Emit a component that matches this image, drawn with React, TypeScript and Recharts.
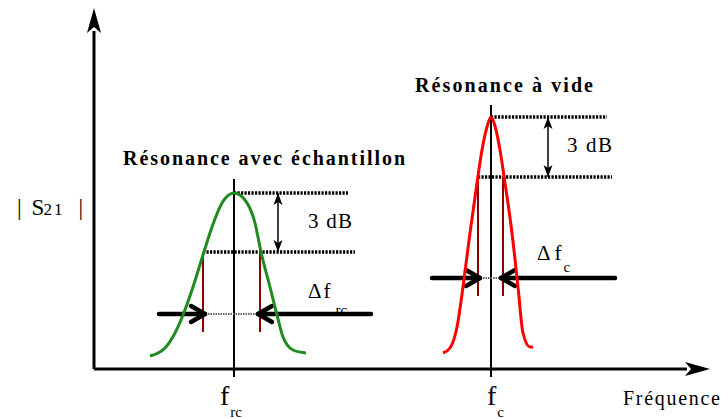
import React from "react"
import { ComposedChart, Line, XAxis, YAxis, ReferenceLine } from "recharts"

// arbitrary units: frequency along x, |S21| along y
const sampleFreq = [56, 71, 81, 89, 99, 109, 118, 128, 140, 151, 161, 167, 176, 183, 189, 199, 212]
const sampleS21 = [13, 21, 36, 54, 82, 114, 142, 166, 176, 169, 146, 117, 82, 54, 32, 19, 16]
const emptyFreq = [349, 356, 363, 369, 376, 383, 388, 393, 397, 401, 406, 411, 418, 424, 429, 436, 439]
const emptyS21 = [16, 21, 42, 82, 136, 186, 219, 242, 252, 243, 219, 186, 136, 82, 36, 22, 22]

const sampleData = sampleFreq.map((f, i) => ({ f, s: sampleS21[i] }))
const emptyData = emptyFreq.map((f, i) => ({ f, s: emptyS21[i] }))

// one entry per resonance: [with sample, empty cavity]
const titles = ["Résonance avec échantillon", "Résonance à vide"]
const tickSubs = ["rc", "c"]
const peakFreq = [140, 397]
const peakLevel = [176, 252]
const halfLevel = [117, 192]
const halfLow = [109, 384]
const halfHigh = [166, 409]
const bandLevel = [55, 91]
const markTop = [190, 264]
const dotEnd = [254, 513]
const halfDotEnd = [261, 518]
const dbArrowFreq = [184, 454]
const arrowOuterLow = [65, 338]
const arrowOuterHigh = [277, 521]

const X_MAX = 616
const Y_MAX = 361
const AXIS_BELOW = -8

const W = 723
const H = 419
const MARGIN = { top: 8, right: 13, bottom: 50, left: 94 }
const serif = "'Liberation Serif'"

// same linear mapping as the chart's hidden axes, for the text layer
const sx = (x: number) => MARGIN.left + (x / X_MAX) * (W - MARGIN.left - MARGIN.right)
const sy = (y: number) => MARGIN.top + (1 - y / Y_MAX) * (H - MARGIN.top - MARGIN.bottom)

function unit(p: any) {
  const dx = p.x2 - p.x1
  const dy = p.y2 - p.y1
  const len = Math.hypot(dx, dy) || 1
  return { ux: dx / len, uy: dy / len }
}

// thick axis with a filled head at the end
const axisShape = (p: any) => {
  const { ux, uy } = unit(p)
  const L = 25, Wd = 7
  const bx = p.x2 - ux * L, by = p.y2 - uy * L
  return (
    <g>
      <line x1={p.x1} y1={p.y1} x2={bx + ux * 2} y2={by + uy * 2} stroke="#000" strokeWidth={3} />
      <polygon
        points={`${p.x2},${p.y2} ${bx - uy * Wd},${by + ux * Wd} ${bx + ux * 6},${by + uy * 6} ${bx + uy * Wd},${by - ux * Wd}`}
        fill="#000"
      />
    </g>
  )
}

// thick arrow with an open chevron head
const chevronShape = (p: any) => {
  const { ux, uy } = unit(p)
  const L = 14, Wd = 8
  const bx = p.x2 - ux * L, by = p.y2 - uy * L
  return (
    <g stroke="#000" strokeWidth={4.5} fill="none" strokeLinecap="round" strokeLinejoin="round">
      <line x1={p.x1} y1={p.y1} x2={p.x2} y2={p.y2} />
      <polyline points={`${bx - uy * Wd},${by + ux * Wd} ${p.x2},${p.y2} ${bx + uy * Wd},${by - ux * Wd}`} />
    </g>
  )
}

// thin double-headed arrow for the 3 dB span
const doubleShape = (p: any) => {
  const { ux, uy } = unit(p)
  const L = 12, Wd = 4.5
  const head = (tx: number, ty: number, ax: number, ay: number) => {
    const bx = tx - ax * L, by = ty - ay * L
    return `${tx},${ty} ${bx - ay * Wd},${by + ax * Wd} ${bx + ax * 3},${by + ay * 3} ${bx + ay * Wd},${by - ax * Wd}`
  }
  return (
    <g>
      <line x1={p.x1} y1={p.y1} x2={p.x2} y2={p.y2} stroke="#000" strokeWidth={1.5} />
      <polygon points={head(p.x2, p.y2, ux, uy)} fill="#000" />
      <polygon points={head(p.x1, p.y1, -ux, -uy)} fill="#000" />
    </g>
  )
}

function T({ x, y, children, ...rest }: any) {
  return (
    <text x={sx(x)} y={sy(y)} fill="#000" fontFamily="Liberation Serif" style={{ fontFamily: serif }} {...rest}>
      {children}
    </text>
  )
}

export default function App() {
  const annotations: React.ReactNode[] = []
  titles.forEach((title, i) => {
    const k = `r${i}`
    annotations.push(
      <ReferenceLine key={k + "v"} segment={[{ x: peakFreq[i], y: AXIS_BELOW }, { x: peakFreq[i], y: markTop[i] }]} stroke="#000" strokeWidth={2} ifOverflow="visible" />,
      <ReferenceLine key={k + "d1"} segment={[{ x: peakFreq[i], y: peakLevel[i] }, { x: dotEnd[i], y: peakLevel[i] }]} stroke="#000" strokeWidth={3.5} strokeDasharray="2.2 1.3" ifOverflow="visible" />,
      <ReferenceLine key={k + "d2"} segment={[{ x: halfLow[i], y: halfLevel[i] }, { x: halfDotEnd[i], y: halfLevel[i] }]} stroke="#000" strokeWidth={3.5} strokeDasharray="2.2 1.3" ifOverflow="visible" />,
      <ReferenceLine key={k + "m1"} segment={[{ x: halfLow[i], y: halfLevel[i] }, { x: halfLow[i], y: bandLevel[i] - 18 }]} stroke="#8b0000" strokeWidth={2} ifOverflow="visible" />,
      <ReferenceLine key={k + "m2"} segment={[{ x: halfHigh[i], y: halfLevel[i] }, { x: halfHigh[i], y: bandLevel[i] - 18 }]} stroke="#8b0000" strokeWidth={2} ifOverflow="visible" />,
      <ReferenceLine key={k + "db"} segment={[{ x: dbArrowFreq[i], y: halfLevel[i] }, { x: dbArrowFreq[i], y: peakLevel[i] }]} shape={doubleShape} ifOverflow="visible" />,
      <ReferenceLine key={k + "bd"} segment={[{ x: halfLow[i], y: bandLevel[i] }, { x: halfHigh[i], y: bandLevel[i] }]} stroke="#666" strokeWidth={2} strokeDasharray="1.5 1" ifOverflow="visible" />,
      <ReferenceLine key={k + "al"} segment={[{ x: arrowOuterLow[i], y: bandLevel[i] }, { x: halfLow[i] + 2, y: bandLevel[i] }]} shape={chevronShape} ifOverflow="visible" />,
      <ReferenceLine key={k + "ah"} segment={[{ x: arrowOuterHigh[i], y: bandLevel[i] }, { x: halfHigh[i] - 2, y: bandLevel[i] }]} shape={chevronShape} ifOverflow="visible" />
    )
  })

  return (
    <div style={{ position: "absolute", left: 0, top: 0, width: W, height: H, fontFamily: serif }}>
      <ComposedChart width={W} height={H} margin={MARGIN} style={{ overflow: "visible" }}>
        <XAxis type="number" dataKey="f" domain={[0, X_MAX]} hide allowDataOverflow />
        <YAxis type="number" dataKey="s" domain={[0, Y_MAX]} hide allowDataOverflow />

        {annotations}

        <Line data={sampleData} dataKey="s" type="monotone" stroke="#1f8a1f" strokeWidth={3} dot={false} isAnimationActive={false} />
        <Line data={emptyData} dataKey="s" type="monotone" stroke="#ff0000" strokeWidth={3} dot={false} isAnimationActive={false} />

        <ReferenceLine segment={[{ x: 0, y: 0 }, { x: 0, y: Y_MAX }]} shape={axisShape} ifOverflow="visible" />
        <ReferenceLine segment={[{ x: 0, y: 0 }, { x: X_MAX, y: 0 }]} shape={axisShape} ifOverflow="visible" />
      </ComposedChart>

      {/* text layer, placed with the chart's own scale */}
      <svg width={W} height={H} style={{ position: "absolute", left: 0, top: 0, pointerEvents: "none", fontFamily: serif }}>
        <T x={29} y={204} fontSize={20} fontWeight="bold" textLength={282} lengthAdjust="spacing">{titles[0]}</T>
        <T x={321} y={277} fontSize={20} fontWeight="bold" textLength={178} lengthAdjust="spacing">{titles[1]}</T>
        <T x={214} y={141} fontSize={21} textLength={44} lengthAdjust="spacing">3 dB</T>
        <T x={473} y={217} fontSize={21} textLength={45} lengthAdjust="spacing">3 dB</T>
        <T x={214} y={71} fontSize={21}>Δ<tspan dx={2}>f</tspan><tspan dx={5} dy={17} fontSize={15}>{tickSubs[0]}</tspan></T>
        <T x={443} y={109} fontSize={21}>Δ<tspan dx={4}>f</tspan><tspan dx={2} dy={12} fontSize={15}>{tickSubs[1]}</tspan></T>
        <T x={-77} y={154} fontSize={23}>|<tspan dx={10}>S</tspan><tspan dx={-1} fontSize={17}>2</tspan><tspan dx={2} fontSize={17}>1</tspan><tspan dx={16}>|</tspan></T>
        <T x={529} y={-36} fontSize={20} textLength={97} lengthAdjust="spacing">Fréquence</T>
        {peakFreq.map((f, i) => (
          <T key={"t" + i} x={f} y={-36} fontSize={28} dx={i === 0 ? -14 : -4}>
            f<tspan dx={1} dy={12} fontSize={15}>{tickSubs[i]}</tspan>
          </T>
        ))}
      </svg>
    </div>
  )
}
